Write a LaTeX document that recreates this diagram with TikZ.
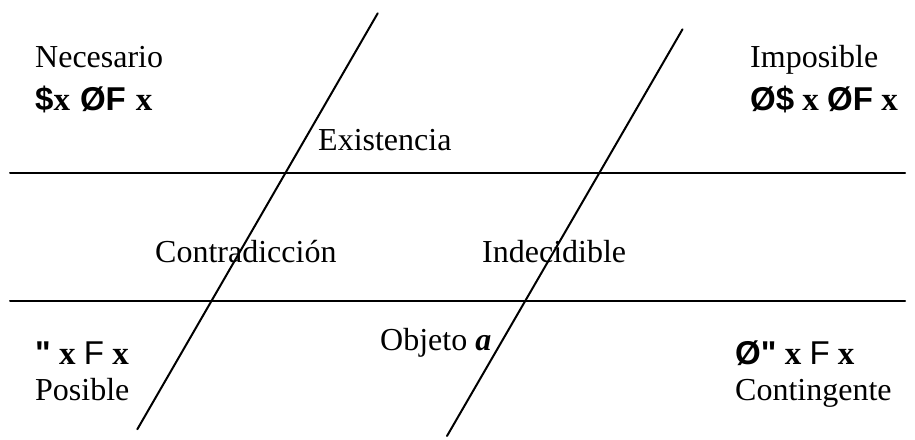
\documentclass[tikz,border=0pt]{standalone}
\usepackage{fontspec}
\setmainfont{Liberation Serif}
\newfontfamily\symfont{Liberation Sans}
\newcommand{\sy}[1]{{\symfont\bfseries #1}}
\newcommand{\syr}[1]{{\symfont #1}}
\begin{document}
\begin{tikzpicture}[x=1pt,y=-1pt,
  lbl/.style={anchor=base west,inner sep=0pt,font=\fontsize{32}{38}\selectfont},
  frm/.style={anchor=base west,inner sep=0pt,font=\fontsize{33}{40}\selectfont},
  ln/.style={line width=2pt,line cap=round}]
\useasboundingbox (0,0) rectangle (915,439);
% lines
\coordinate (h1a) at (10,173.3); \coordinate (h1b) at (905,173.3);
\coordinate (h2a) at (10,301.3); \coordinate (h2b) at (905,301.3);
\coordinate (l1a) at (377.7,13.3); \coordinate (l1b) at (137.3,429.3);
\coordinate (l2a) at (682.5,29.3); \coordinate (l2b) at (447,436);
\draw[ln] (h1a) -- (h1b);
\draw[ln] (h2a) -- (h2b);
\draw[ln] (l1a) -- (l1b);
\draw[ln] (l2a) -- (l2b);
% texts
\node[lbl] (nec) at (35,67) {Necesario};
\node[frm] (necf) at (35,110) {\sy{\$}\textbf{x}\hspace{10pt}\sy{ØF}\hspace{10pt}\textbf{x}};
\node[lbl] (exi) at (318,150) {Existencia};
\node[lbl] (imp) at (750,67) {Imposible};
\node[frm] (impf) at (750,110) {\sy{Ø\$} \textbf{x} \sy{ØF} \textbf{x}};
\node[lbl] (con) at (155,262) {Contradicción};
\node[lbl] (ind) at (482,262) {Indecidible};
\node[lbl] (obj) at (380,350) {Objeto \textbf{\textit{a}}};
\node[frm] (posf) at (35,364) {\sy{"} \textbf{x} \syr{F} \textbf{x}};
\node[lbl] (pos) at (35,400) {Posible};
\node[frm] (ctgf) at (735,364) {\sy{Ø"} \textbf{x} \syr{F} \textbf{x}};
\node[lbl] (ctg) at (735,400) {Contingente};
\end{tikzpicture}
\end{document}
